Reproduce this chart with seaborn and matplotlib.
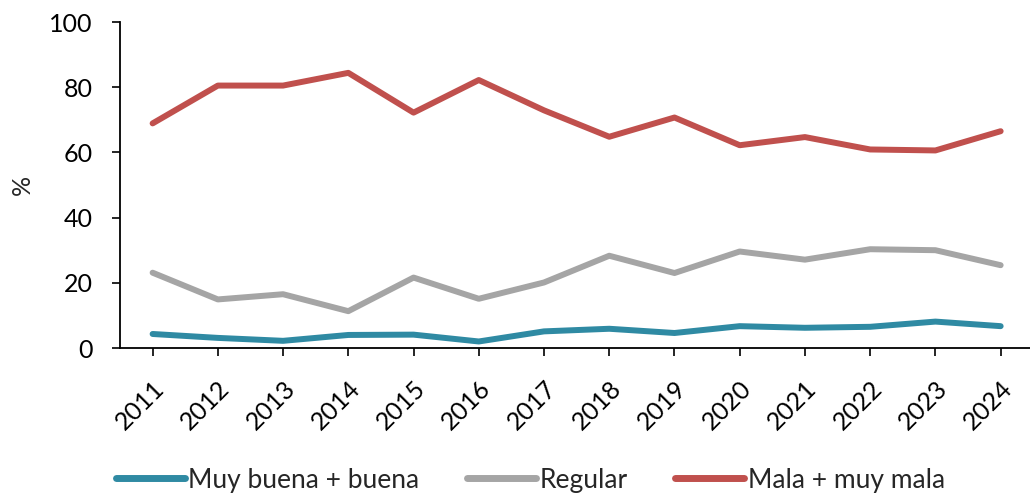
import numpy as np
import pandas as pd
import matplotlib
matplotlib.use("Agg")
import matplotlib.pyplot as plt
import seaborn as sns

years = [str(y) for y in range(2011, 2025)]
buena = [4.3, 3.1, 2.2, 4.0, 4.1, 2.0, 5.1, 5.9, 4.6, 6.7, 6.2, 6.5, 8.1, 6.7]
regular = [23.1, 14.9, 16.5, 11.3, 21.6, 15.1, 20.1, 28.3, 23.0, 29.6, 27.1, 30.3, 30.0, 25.4]
mala = [68.9, 80.5, 80.5, 84.4, 72.2, 82.2, 72.9, 64.8, 70.7, 62.2, 64.7, 60.9, 60.6, 66.5]
series = ["Muy buena + buena", "Regular", "Mala + muy mala"]
colores = ["#2F8AA3", "#A5A5A5", "#C0504D"]

df = pd.DataFrame({
    "anio": years * 3,
    "pos": list(range(len(years))) * 3,
    "valor": buena + regular + mala,
    "serie": [series[0]] * len(years) + [series[1]] * len(years) + [series[2]] * len(years),
})

sns.set_style("white")
plt.rcParams["font.family"] = ["Lato", "DejaVu Sans"]

fig = plt.figure(figsize=(10.3, 4.93), dpi=100)
ax = fig.add_axes([120 / 1030, 1 - 348 / 493, 910 / 1030, 326 / 493])

sns.lineplot(data=df, x="pos", y="valor", hue="serie", hue_order=series,
             palette=colores, linewidth=4.3, ax=ax, legend=False)
for ln in ax.lines:
    ln.set_solid_capstyle("round")
    ln.set_solid_joinstyle("round")

ax.set_xlim(-0.5, 13.45)
ax.set_ylim(0, 100)
ax.set_yticks(range(0, 101, 20))
ax.set_xticks(range(len(years)))
ax.set_xticklabels(years, rotation=45, ha="right", rotation_mode="anchor")
ax.tick_params(axis="both", labelsize=18, direction="out", length=5.8, width=1.2,
               left=True, bottom=True, colors="black")
ax.tick_params(axis="y", pad=14)
ax.tick_params(axis="x", pad=15)
ax.set_xlabel("")
ax.set_ylabel("%", fontsize=18, labelpad=11)
for s in ["top", "right"]:
    ax.spines[s].set_visible(False)
for s in ["left", "bottom"]:
    ax.spines[s].set_color("black")
    ax.spines[s].set_linewidth(1.3)

handles = [plt.Line2D([0], [0], color=c, lw=5, solid_capstyle="round") for c in colores]
fig.legend(handles, series, loc="center", bbox_to_anchor=(0.515, 0.026), ncol=3,
           frameon=False, fontsize=19, handlelength=2.6, handletextpad=0.15,
           columnspacing=1.8)

fig.savefig("out.png", dpi=100)
